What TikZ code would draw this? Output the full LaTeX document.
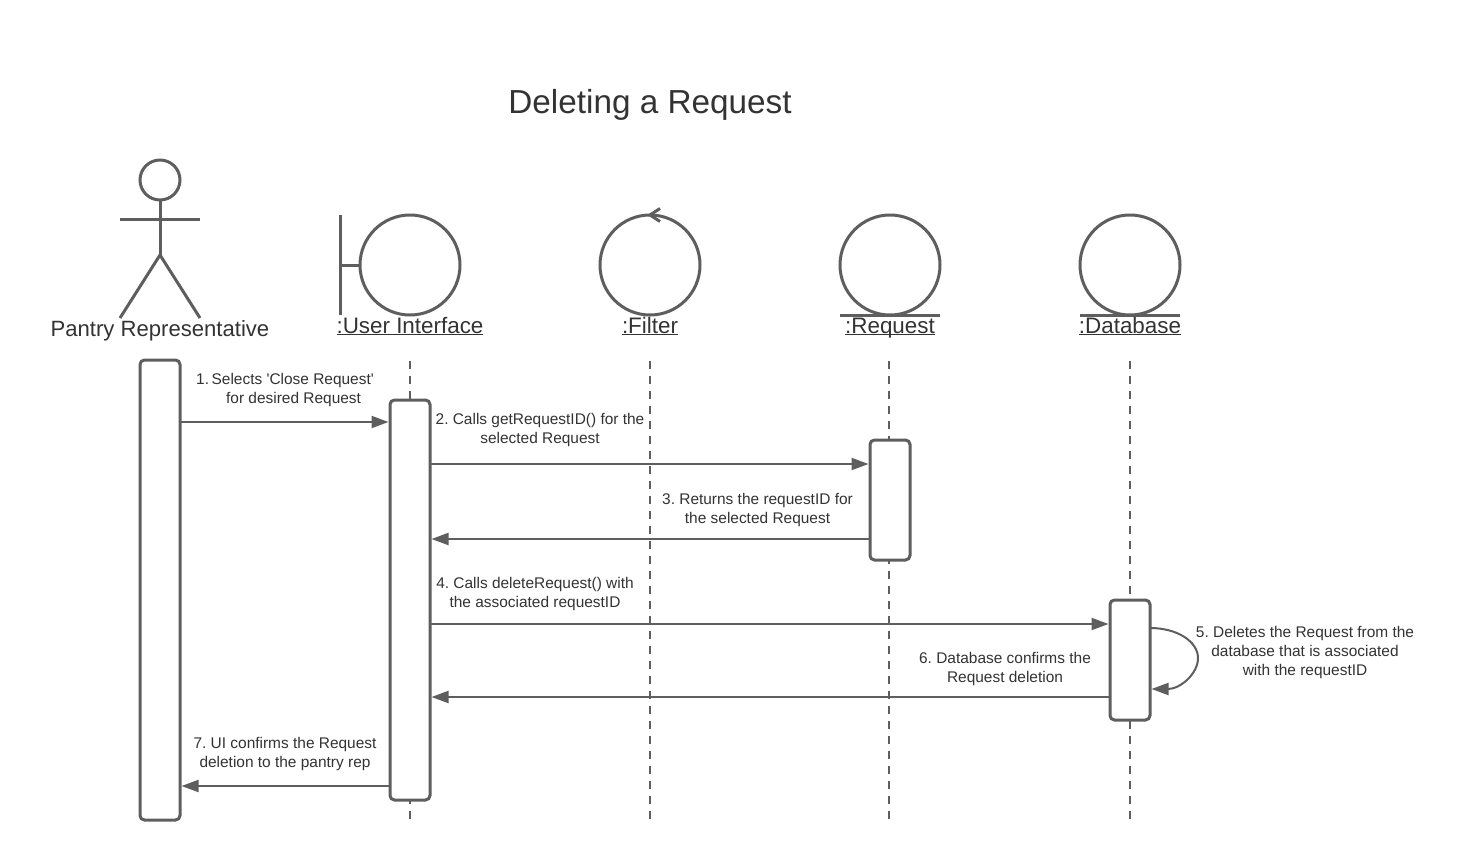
\documentclass[tikz,border=0pt]{standalone}
\usepackage{fontspec}
\setmainfont{Liberation Sans}
\usetikzlibrary{arrows.meta}
\definecolor{ln}{HTML}{5E5E5E}
\definecolor{tx}{HTML}{333333}
\newcommand{\ulabel}[1]{\underline{\smash{#1}}}
\frenchspacing
\tikzset{
  shapeline/.style={draw=ln,line width=3pt},
  headcircle/.style={circle,draw=ln,line width=3pt,fill=white,inner sep=0pt,outer sep=0pt,minimum size=100pt},
  actbox/.style={rectangle,draw=ln,line width=3pt,fill=white,rounded corners=4.5pt,inner sep=0pt,outer sep=0pt,minimum width=40pt},
  lifeline/.style={draw=ln,line width=2pt,dash pattern=on 8pt off 7pt},
  msg/.style={draw=ln,line width=2pt,-{Triangle[length=17pt,width=12pt,fill=ln]},shorten >=1.5pt},
  msgtext/.style={text=tx,font=\fontsize{15.45pt}{19pt}\selectfont,align=center,inner sep=0pt},
  headtext/.style={text=tx,font=\fontsize{22.4pt}{26pt}\selectfont,inner sep=0pt,anchor=base},
}
\begin{document}
\begin{tikzpicture}[x=1pt,y=-1pt]
\useasboundingbox (0,0) rectangle (1460,860);
\fill[white] (0,0) rectangle (1460,860);
\node[text=tx,font=\fontsize{33.3pt}{38pt}\selectfont,inner sep=0pt] (title) at (650,105) {Deleting a Request};

% actor
\node[headcircle,minimum size=40pt] (ahead) at (160,180) {};
\coordinate (ahip) at (160,255);
\coordinate (aarmL) at (120,219);
\coordinate (aarmR) at (200,219);
\coordinate (alegL) at (120,318);
\coordinate (alegR) at (200,318);
\draw[shapeline] (ahead.south) -- (ahip);
\draw[shapeline] (aarmL) -- (aarmR);
\draw[shapeline] (alegL) -- (ahip) -- (alegR);
\node[headtext,font=\fontsize{22.1pt}{26pt}\selectfont] (aname) at (160,336) {Pantry Representative};

% boundary
\node[headcircle] (ui) at (410,265) {};
\coordinate (ubarT) at (340,215);
\coordinate (ubarB) at (340,315);
\coordinate (ubarM) at (340,265);
\draw[shapeline] (ubarT) -- (ubarB);
\draw[shapeline] (ubarM) -- (ui.west);
\node[headtext] (uiname) at (410,333) {\ulabel{:User Interface}};

% control
\node[headcircle] (fi) at (650,265) {};
\coordinate (fa1) at (660,208.5);
\coordinate (fa2) at (660,221.5);
\draw[shapeline] (fa1) -- (fi.north) -- (fa2);
\node[headtext] (finame) at (650,333) {\ulabel{:Filter}};

% entities
\node[headcircle] (re) at (890,265) {};
\draw[shapeline] ([xshift=-50pt]re.south) -- ([xshift=50pt]re.south);
\node[headtext] (rename) at (890,333) {\ulabel{:Request}};
\node[headcircle] (db) at (1130,265) {};
\draw[shapeline] ([xshift=-50pt]db.south) -- ([xshift=50pt]db.south);
\node[headtext] (dbname) at (1130,333) {\ulabel{:Database}};

% lifelines
\coordinate (l2t) at (410,361); \coordinate (l2b) at (410,820);
\coordinate (l3t) at (650,361); \coordinate (l3b) at (650,820);
\coordinate (l4t) at (889,361); \coordinate (l4b) at (889,820);
\coordinate (l5t) at (1130,361); \coordinate (l5b) at (1130,820);
\draw[lifeline] (l2t) -- (l2b);
\draw[lifeline] (l3t) -- (l3b);
\draw[lifeline] (l4t) -- (l4b);
\draw[lifeline] (l5t) -- (l5b);

% activation boxes
\node[actbox,minimum height=460pt] (a1) at (160,590) {};
\node[actbox,minimum height=400pt] (a2) at (410,600) {};
\node[actbox,minimum height=120pt] (a3) at (890,500) {};
\node[actbox,minimum height=120pt] (a4) at (1130,660) {};

% messages
\draw[msg] ([yshift=-62pt]a1.north east) -- ([yshift=-22pt]a2.north west);
\draw[msg] ([yshift=-64pt]a2.north east) -- ([yshift=-24pt]a3.north west);
\draw[msg] ([yshift=-99pt]a3.north west) -- ([yshift=-139pt]a2.north east);
\draw[msg] ([yshift=-224pt]a2.north east) -- ([yshift=-24pt]a4.north west);
\draw[msg] ([yshift=-97pt]a4.north west) -- ([yshift=-297pt]a2.north east);
\draw[msg] ([yshift=-386pt]a2.north west) -- ([yshift=-426pt]a1.north east);
\draw[msg] ([yshift=-28pt]a4.north east) .. controls (1178,628) and (1198,642) .. (1198,658) .. controls (1198,674) and (1180,689) .. ([yshift=-89pt]a4.north east);

% message labels
\node[msgtext] (m1) at (285,390) {1.\,Selects \textquotesingle Close Request\textquotesingle\\ \ \ \ \ for desired Request};
\node[msgtext] (m2) at (540,430) {2. Calls getRequestID() for the\\selected Request};
\node[msgtext] (m3) at (757.5,510) {3. Returns the requestID for\\the selected Request};
\node[msgtext] (m4) at (535,594) {4. Calls deleteRequest() with\\the associated requestID};
\node[msgtext] (m5) at (1305,652) {5. Deletes the Request from the\\database that is associated\\with the requestID};
\node[msgtext] (m6) at (1005,668.5) {6. Database confirms the\\Request deletion};
\node[msgtext] (m7) at (285,754) {7. UI confirms the Request\\deletion to the pantry rep};
\end{tikzpicture}
\end{document}
